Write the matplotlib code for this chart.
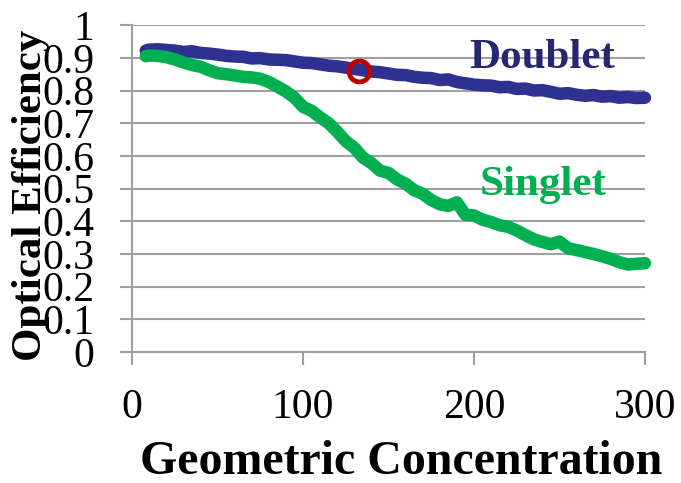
import matplotlib
matplotlib.use("Agg")
import matplotlib.pyplot as plt

conc = [8, 10, 15, 20, 25, 30, 35, 40, 45, 50, 55, 60, 65, 70, 75, 80, 85, 90, 95, 100,
        105, 110, 115, 120, 125, 130, 135, 140, 145, 150, 155, 160, 165, 170, 175, 180,
        185, 190, 195, 200, 205, 210, 215, 220, 225, 230, 235, 240, 245, 250, 255, 260,
        265, 270, 275, 280, 285, 290, 295, 300]

doublet = [0.922, 0.925, 0.926, 0.924, 0.922, 0.918, 0.920, 0.915, 0.913, 0.910,
           0.906, 0.904, 0.903, 0.898, 0.899, 0.895, 0.894, 0.893, 0.889, 0.885,
           0.884, 0.880, 0.876, 0.874, 0.870, 0.866, 0.862, 0.858, 0.856, 0.852,
           0.848, 0.847, 0.842, 0.839, 0.838, 0.832, 0.834, 0.826, 0.822, 0.818,
           0.816, 0.815, 0.810, 0.811, 0.805, 0.806, 0.800, 0.801, 0.796, 0.790,
           0.792, 0.787, 0.784, 0.786, 0.781, 0.783, 0.778, 0.780, 0.777, 0.778]

singlet = [0.905, 0.907, 0.906, 0.902, 0.895, 0.886, 0.878, 0.873, 0.862, 0.853,
           0.850, 0.846, 0.842, 0.840, 0.836, 0.826, 0.812, 0.797, 0.778, 0.750,
           0.738, 0.718, 0.700, 0.674, 0.645, 0.625, 0.595, 0.578, 0.555, 0.548,
           0.528, 0.515, 0.495, 0.484, 0.465, 0.452, 0.447, 0.458, 0.420, 0.418,
           0.405, 0.398, 0.388, 0.383, 0.372, 0.358, 0.345, 0.337, 0.330, 0.338,
           0.318, 0.312, 0.306, 0.300, 0.293, 0.285, 0.275, 0.268, 0.270, 0.272]

marked_x = [133]
marked_y = [0.861]

x_ticks = [0, 100, 200, 300]
y_ticks = [0, 0.1, 0.2, 0.3, 0.4, 0.5, 0.6, 0.7, 0.8, 0.9, 1]
y_tick_labels = ['0', '0.1', '0.2', '0.3', '0.4', '0.5', '0.6', '0.7', '0.8', '0.9', '1']

blue = '#2e3192'
green = '#00b050'
grey = '#a0a0a0'

plt.rcParams['font.family'] = ['Liberation Serif', 'DejaVu Serif']

fig = plt.figure(figsize=(6.81, 4.83), dpi=100)
ax = fig.add_axes([0.194, 0.271, 0.753, 0.677])

ax.plot(conc, doublet, color=blue, lw=9, solid_capstyle='round',
        solid_joinstyle='round', clip_on=False, zorder=3)
ax.plot(conc, singlet, color=green, lw=9, solid_capstyle='round',
        solid_joinstyle='round', clip_on=False, zorder=3)
ax.plot(marked_x, marked_y, 'o', ms=15, mfc='none', mec='#c00000', mew=3.5,
        zorder=4, clip_on=False)

ax.text(197.5, 0.868, 'Doublet', color='#262673', fontsize=31, fontweight='bold')
ax.text(203.5, 0.48, 'Singlet', color=green, fontsize=31, fontweight='bold')

ax.set_xlim(0, 300)
ax.set_ylim(0, 1)
ax.set_xticks(x_ticks)
ax.set_yticks(y_ticks)
ax.set_yticklabels(y_tick_labels)
ax.grid(axis='y', color=grey, lw=1.5)
ax.set_axisbelow(True)

for side in ['top', 'right']:
    ax.spines[side].set_visible(False)
for side in ['left', 'bottom']:
    ax.spines[side].set_color(grey)
    ax.spines[side].set_linewidth(1.5)

ax.tick_params(axis='both', colors=grey, width=1.5, length=9, labelsize=30,
               labelcolor='black')
ax.tick_params(axis='y', pad=18)
ax.tick_params(axis='x', pad=17)

ax.set_xlabel('Geometric Concentration', fontsize=34.5, fontweight='bold')
ax.xaxis.set_label_coords(0.524, -0.27)
ax.set_ylabel('Optical Efficiency', fontsize=31, fontweight='bold')
ax.yaxis.set_label_coords(-0.16, 0.48)
ax.yaxis.label.set_zorder(0)

fig.savefig('out.png', dpi=100)
